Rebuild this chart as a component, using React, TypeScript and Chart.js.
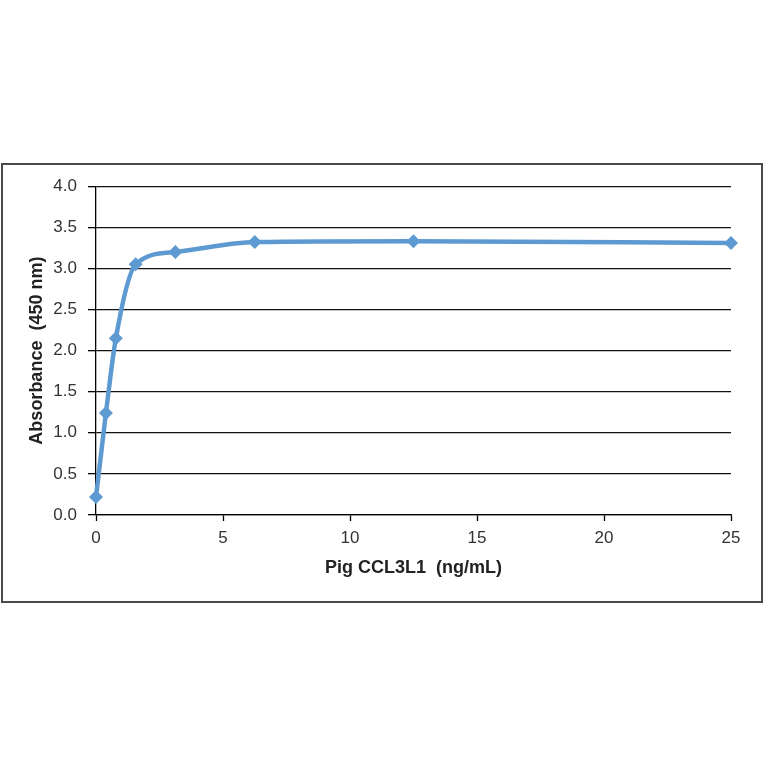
import React, { useEffect, useRef } from 'react';
import Chart from 'chart.js/auto';

const concentrations = [0, 0.391, 0.781, 1.5625, 3.125, 6.25, 12.5, 25];
const absorbance = [0.22, 1.24, 2.15, 3.05, 3.2, 3.32, 3.33, 3.31];
const yTicks = [0, 0.5, 1, 1.5, 2, 2.5, 3, 3.5, 4];
const xTicks = [0, 5, 10, 15, 20, 25];

const lineColor = '#5E9AD2';

const App: React.FC = () => {
  const canvasRef = useRef<HTMLCanvasElement | null>(null);
  const chartRef = useRef<Chart | null>(null);

  useEffect(() => {
    document.body.style.margin = '0';
    if (!canvasRef.current) return;
    if (chartRef.current) chartRef.current.destroy();

    chartRef.current = new Chart(canvasRef.current, {
      type: 'line',
      data: {
        datasets: [
          {
            label: 'Pig CCL3L1',
            data: concentrations.map((x, i) => ({ x, y: absorbance[i] })),
            borderColor: lineColor,
            backgroundColor: lineColor,
            borderWidth: 4.5,
            pointStyle: 'rectRot',
            pointRadius: 7,
            pointBorderWidth: 0,
            cubicInterpolationMode: 'monotone',
            clip: false,
          },
        ],
      },
      options: {
        animation: false,
        responsive: false,
        devicePixelRatio: 1,
        layout: { padding: { left: 0, top: 18, right: 30, bottom: 0 } },
        plugins: {
          legend: { display: false },
          tooltip: { enabled: false },
        },
        scales: {
          x: {
            type: 'linear',
            min: 0,
            max: 25,
            afterFit: (scale) => {
              scale.height = 86;
            },
            afterBuildTicks: (scale) => {
              scale.ticks = xTicks.map((v) => ({ value: v }));
            },
            grid: {
              drawOnChartArea: false,
              drawTicks: true,
              tickLength: 6,
              tickColor: '#000',
              tickWidth: 1.3,
            },
            border: { display: true, color: '#000', width: 1.3 },
            ticks: {
              color: '#333',
              padding: 7,
              maxRotation: 0,
              font: { family: 'Liberation Sans, Arial', size: 17 },
            },
            title: {
              display: true,
              text: 'Pig CCL3L1  (ng/mL)',
              color: '#222',
              padding: { top: 0, bottom: 22 },
              font: { family: 'Liberation Sans, Arial', size: 18, weight: 'bold' },
            },
          },
          y: {
            min: 0,
            max: 4,
            afterFit: (scale) => {
              scale.width = 93;
            },
            afterBuildTicks: (scale) => {
              scale.ticks = yTicks.map((v) => ({ value: v }));
            },
            grid: {
              color: '#111',
              lineWidth: 1.3,
              tickLength: 8,
              tickColor: '#000',
            },
            border: { display: true, color: '#000', width: 1.3 },
            ticks: {
              color: '#333',
              padding: 11,
              callback: (v) => Number(v).toFixed(1),
              font: { family: 'Liberation Sans, Arial', size: 17 },
            },
            title: {
              display: true,
              text: 'Absorbance  (450 nm)',
              color: '#222',
              padding: { top: 23, bottom: 0 },
              font: { family: 'Liberation Sans, Arial', size: 18, weight: 'bold' },
            },
          },
        },
      },
    });

    return () => {
      if (chartRef.current) {
        chartRef.current.destroy();
        chartRef.current = null;
      }
    };
  }, []);

  return (
    <div style={{ position: 'relative', width: 764, height: 764, background: '#fff' }}>
      <div
        style={{
          position: 'absolute',
          left: 1,
          top: 163,
          width: 762,
          height: 440,
          boxSizing: 'border-box',
          border: '2px solid #4a4a4a',
          background: '#fff',
        }}
      >
        <canvas ref={canvasRef} width={758} height={436} style={{ display: 'block' }} />
      </div>
    </div>
  );
};

export default App;
